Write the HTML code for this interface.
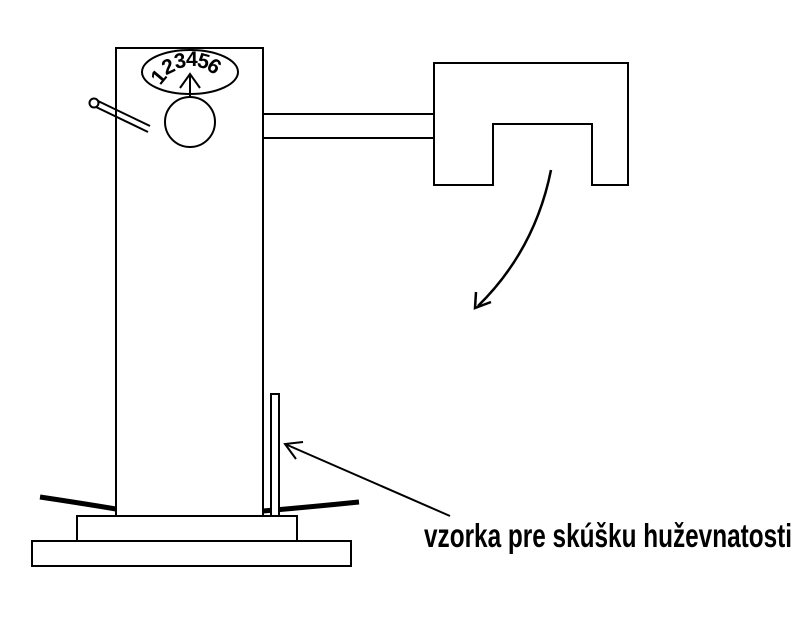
<!DOCTYPE html>
<html><head><style>body{margin:0;background:#fff}svg{display:block}</style></head><body>
<svg width="805" height="624" viewBox="0 0 805 624" xmlns="http://www.w3.org/2000/svg">
<g fill="none" stroke="#000" stroke-width="2">
<rect x="116" y="48" width="147" height="468" fill="#fff"/>
<ellipse cx="190" cy="72" rx="48" ry="22"/>
<circle cx="190" cy="122" r="25"/>
<line x1="190" y1="97" x2="190" y2="74"/>
<polyline points="180,88 190,74 200,88"/>
<circle cx="94" cy="103" r="4.5"/>
<line x1="98" y1="101" x2="150" y2="126"/>
<line x1="96" y1="107" x2="148" y2="132"/>
<line x1="263" y1="114" x2="434" y2="114"/>
<line x1="263" y1="138" x2="434" y2="138"/>
<path d="M434 185 V63 H628 V185 H592 V124 H493 V185 Z"/>
<path d="M551 170 Q535 250 478 306" stroke-width="2.5"/>
<polyline points="476,292 475,308 491,302" stroke-width="2.5"/>
<path d="M40 497 Q80 503 116 509" stroke-width="5"/>
<path d="M263 511 Q310 507 359 502" stroke-width="5"/>
<rect x="77" y="516" width="220" height="25" fill="#fff"/>
<rect x="32" y="541" width="319" height="25" fill="#fff"/>
<rect x="271" y="394" width="8" height="122" fill="#fff"/>
<line x1="450" y1="516" x2="285" y2="444"/>
<polyline points="303,442 285,444 296,459"/>
</g>
<g font-family="Liberation Sans, sans-serif" font-weight="bold" font-size="21">
<text x="152" y="84" transform="rotate(-50 158 76)">1</text>
<text x="162" y="74" transform="rotate(-25 167 66)">2</text>
<text x="174" y="68" transform="rotate(-10 179 60)">3</text>
<text x="186" y="66">4</text>
<text x="198" y="68" transform="rotate(15 203 60)">5</text>
<text x="209" y="73" transform="rotate(35 214 65)">6</text>
</g>
<text x="424" y="547" font-family="Liberation Sans, sans-serif" font-weight="bold" font-size="33" textLength="368" lengthAdjust="spacingAndGlyphs">vzorka pre skúšku huževnatosti</text>
</svg>
</body></html>
